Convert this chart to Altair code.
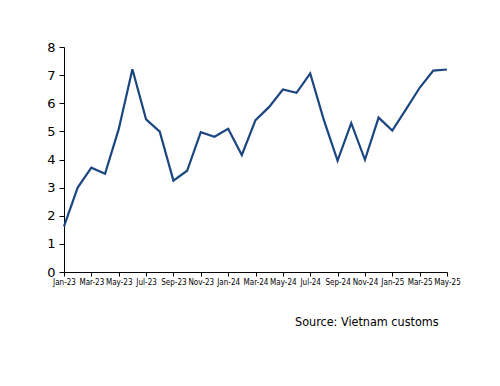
import altair as alt
import pandas as pd

months = ["Jan-23", "Feb-23", "Mar-23", "Apr-23", "May-23", "Jun-23", "Jul-23", "Aug-23",
          "Sep-23", "Oct-23", "Nov-23", "Dec-23", "Jan-24", "Feb-24", "Mar-24", "Apr-24",
          "May-24", "Jun-24", "Jul-24", "Aug-24", "Sep-24", "Oct-24", "Nov-24", "Dec-24",
          "Jan-25", "Feb-25", "Mar-25", "Apr-25", "May-25"]
values = [1.62, 3.0, 3.71, 3.49, 5.08, 7.21, 5.43, 4.99,
          3.25, 3.6, 4.97, 4.81, 5.09, 4.16, 5.4, 5.87,
          6.49, 6.37, 7.06, 5.4, 3.96, 5.29, 3.99, 5.49,
          5.03, 5.78, 6.55, 7.16, 7.2]
source_text = "Source: Vietnam customs"

df = pd.DataFrame({"idx": list(range(len(months))), "month": months, "value": values})
label_js = "[" + ",".join('"%s"' % m for m in months) + "]"

base = alt.Chart(df)
line = base.mark_line(color="#1c4680", strokeWidth=2.2).encode(
    x=alt.X("idx:Q", scale=alt.Scale(domain=[0, len(months) - 1], nice=False, zero=False),
            axis=alt.Axis(values=list(range(0, len(months), 2)),
                          labelExpr=label_js + "[datum.value]",
                          title=None, grid=False, domainColor="black", tickColor="black",
                          tickSize=4, labelFont="DejaVu Sans Condensed", labelFontSize=8,
                          labelColor="black", labelOverlap=False, labelPadding=2,
                          labelFlush=False)),
    y=alt.Y("value:Q", scale=alt.Scale(domain=[0, 8], nice=False),
            axis=alt.Axis(values=list(range(0, 9)), title=None, grid=False,
                          domainColor="black", tickColor="black", tickSize=5,
                          labelFont="DejaVu Sans", labelFontSize=13, labelColor="black",
                          labelPadding=4)),
)

src = alt.Chart(pd.DataFrame({"t": [source_text]})).mark_text(
    align="left", baseline="alphabetic", font="DejaVu Sans Condensed", fontSize=12.5, color="black"
).encode(x=alt.value(231), y=alt.value(279), text="t:N")

chart = alt.layer(line, src).properties(
    width=383, height=225,
    autosize=alt.AutoSizeParams(type="none"),
    padding={"left": 56, "top": 39, "right": 45, "bottom": 106},
).configure_view(stroke=None).configure_axis(domainWidth=1, tickWidth=1)

chart.save("out.html", embed_options={"renderer": "svg", "actions": False})
